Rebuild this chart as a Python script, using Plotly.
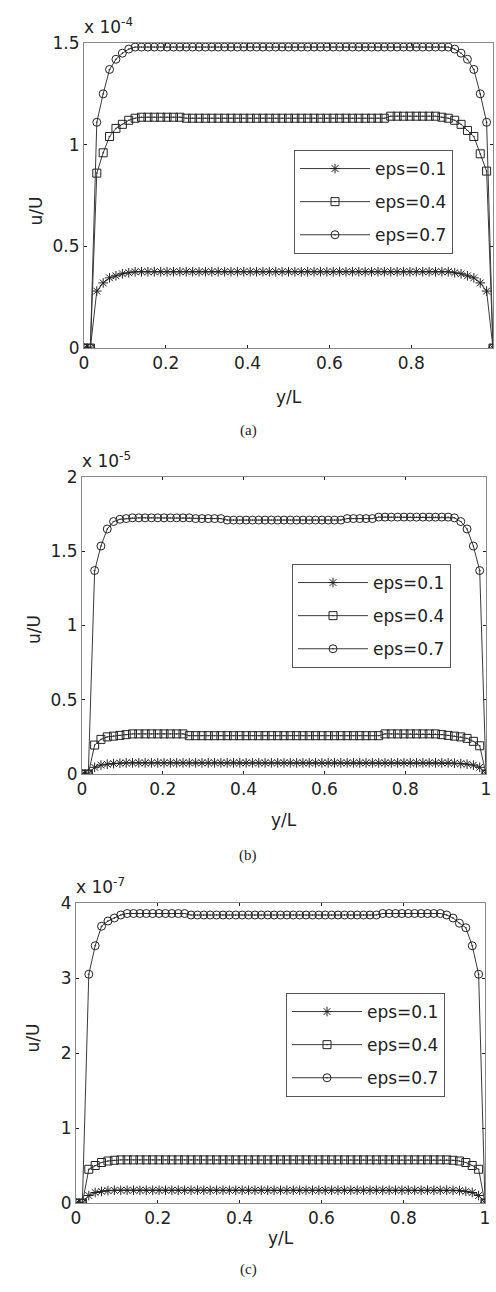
import plotly.graph_objects as go

W, H = 496, 1292

# grid y/L
x_grid = [0, 0.0156, 0.0313, 0.0469, 0.0625, 0.0781, 0.0938, 0.1094,
          0.125, 0.1406, 0.1563, 0.1719, 0.1875, 0.2031, 0.2188, 0.2344,
          0.25, 0.2656, 0.2813, 0.2969, 0.3125, 0.3281, 0.3438, 0.3594,
          0.375, 0.3906, 0.4063, 0.4219, 0.4375, 0.4531, 0.4688, 0.4844,
          0.5, 0.5156, 0.5313, 0.5469, 0.5625, 0.5781, 0.5938, 0.6094,
          0.625, 0.6406, 0.6563, 0.6719, 0.6875, 0.7031, 0.7188, 0.7344,
          0.75, 0.7656, 0.7813, 0.7969, 0.8125, 0.8281, 0.8438, 0.8594,
          0.875, 0.8906, 0.9063, 0.9219, 0.9375, 0.9531, 0.9688, 0.9844,
          1]

series_names = ["eps=0.1", "eps=0.4", "eps=0.7"]

# ---- panel (a), values in units of 1e-4 ----
a_eps01 = [0, 0, 0.28, 0.32, 0.345, 0.355, 0.365, 0.37, 0.375,
           0.375, 0.375, 0.375, 0.375, 0.375, 0.375, 0.375, 0.375,
           0.375, 0.375, 0.375, 0.375, 0.375, 0.375, 0.375, 0.375,
           0.375, 0.375, 0.375, 0.375, 0.375, 0.375, 0.375, 0.375,
           0.375, 0.375, 0.375, 0.375, 0.375, 0.375, 0.375, 0.375,
           0.375, 0.375, 0.375, 0.375, 0.375, 0.375, 0.375, 0.375,
           0.375, 0.375, 0.375, 0.375, 0.375, 0.375, 0.375, 0.375,
           0.375, 0.37, 0.365, 0.355, 0.345, 0.32, 0.28, 0]
a_eps04 = [0, 0, 0.86, 0.96, 1.04, 1.08, 1.10, 1.12, 1.13,
           1.135, 1.135, 1.135, 1.135, 1.135, 1.135, 1.135, 1.13,
           1.13, 1.13, 1.13, 1.13, 1.13, 1.13, 1.13, 1.13,
           1.13, 1.13, 1.13, 1.13, 1.13, 1.13, 1.13, 1.13,
           1.13, 1.13, 1.13, 1.13, 1.13, 1.13, 1.13, 1.13,
           1.13, 1.13, 1.13, 1.13, 1.13, 1.13, 1.13, 1.14,
           1.14, 1.14, 1.14, 1.14, 1.14, 1.14, 1.14, 1.135,
           1.13, 1.12, 1.10, 1.07, 1.04, 0.955, 0.87, 0]
a_eps07 = [0, 0, 1.11, 1.25, 1.37, 1.42, 1.45, 1.47, 1.48,
           1.48, 1.48, 1.48, 1.48, 1.48, 1.48, 1.48, 1.48,
           1.48, 1.48, 1.48, 1.48, 1.48, 1.48, 1.48, 1.48,
           1.48, 1.48, 1.48, 1.48, 1.48, 1.48, 1.48, 1.48,
           1.48, 1.48, 1.48, 1.48, 1.48, 1.48, 1.48, 1.48,
           1.48, 1.48, 1.48, 1.48, 1.48, 1.48, 1.48, 1.48,
           1.48, 1.48, 1.48, 1.48, 1.48, 1.48, 1.48, 1.48,
           1.48, 1.47, 1.45, 1.42, 1.37, 1.25, 1.11, 0]

# ---- panel (b), values in units of 1e-5 ----
b_eps01 = [0, 0, 0.045, 0.06, 0.066, 0.07, 0.073, 0.075, 0.075,
           0.075, 0.075, 0.075, 0.075, 0.075, 0.075, 0.075, 0.075,
           0.075, 0.075, 0.075, 0.075, 0.075, 0.075, 0.075, 0.075,
           0.075, 0.075, 0.075, 0.075, 0.075, 0.075, 0.075, 0.075,
           0.075, 0.075, 0.075, 0.075, 0.075, 0.075, 0.075, 0.075,
           0.075, 0.075, 0.075, 0.075, 0.075, 0.075, 0.075, 0.075,
           0.075, 0.075, 0.075, 0.075, 0.075, 0.075, 0.075, 0.075,
           0.075, 0.075, 0.073, 0.07, 0.066, 0.06, 0.045, 0]
b_eps04 = [0, 0, 0.195, 0.233, 0.25, 0.255, 0.26, 0.265, 0.27,
           0.27, 0.27, 0.27, 0.27, 0.27, 0.27, 0.27, 0.27,
           0.258, 0.258, 0.258, 0.258, 0.258, 0.258, 0.258, 0.258,
           0.258, 0.258, 0.258, 0.258, 0.258, 0.258, 0.258, 0.258,
           0.258, 0.258, 0.258, 0.258, 0.258, 0.258, 0.258, 0.258,
           0.258, 0.258, 0.258, 0.258, 0.258, 0.258, 0.258, 0.27,
           0.27, 0.27, 0.27, 0.27, 0.27, 0.27, 0.27, 0.27,
           0.265, 0.26, 0.255, 0.25, 0.24, 0.22, 0.19, 0]
b_eps07 = [0, 0, 1.37, 1.535, 1.65, 1.70, 1.715, 1.72, 1.725,
           1.725, 1.725, 1.725, 1.725, 1.725, 1.725, 1.725, 1.725,
           1.725, 1.72, 1.72, 1.72, 1.72, 1.72, 1.71, 1.71,
           1.71, 1.71, 1.71, 1.71, 1.71, 1.71, 1.71, 1.71,
           1.71, 1.71, 1.71, 1.71, 1.71, 1.71, 1.71, 1.71,
           1.71, 1.72, 1.72, 1.72, 1.72, 1.72, 1.73, 1.73,
           1.73, 1.73, 1.73, 1.73, 1.73, 1.73, 1.73, 1.73,
           1.73, 1.73, 1.725, 1.70, 1.65, 1.535, 1.37, 0]

# ---- panel (c), values in units of 1e-7 ----
c_eps01 = [0, 0, 0.10, 0.14, 0.155, 0.165, 0.17, 0.17, 0.17,
           0.17, 0.17, 0.17, 0.17, 0.17, 0.17, 0.17, 0.17,
           0.17, 0.17, 0.17, 0.17, 0.17, 0.17, 0.17, 0.17,
           0.17, 0.17, 0.17, 0.17, 0.17, 0.17, 0.17, 0.17,
           0.17, 0.17, 0.17, 0.17, 0.17, 0.17, 0.17, 0.17,
           0.17, 0.17, 0.17, 0.17, 0.17, 0.17, 0.17, 0.17,
           0.17, 0.17, 0.17, 0.17, 0.17, 0.17, 0.17, 0.17,
           0.17, 0.17, 0.17, 0.165, 0.155, 0.14, 0.10, 0]
c_eps04 = [0, 0, 0.45, 0.50, 0.54, 0.56, 0.57, 0.575, 0.575,
           0.575, 0.575, 0.575, 0.575, 0.575, 0.575, 0.575, 0.575,
           0.575, 0.575, 0.575, 0.575, 0.575, 0.575, 0.575, 0.575,
           0.575, 0.575, 0.575, 0.575, 0.575, 0.575, 0.575, 0.575,
           0.575, 0.575, 0.575, 0.575, 0.575, 0.575, 0.575, 0.575,
           0.575, 0.575, 0.575, 0.575, 0.575, 0.575, 0.575, 0.575,
           0.575, 0.575, 0.575, 0.575, 0.575, 0.575, 0.575, 0.575,
           0.575, 0.575, 0.57, 0.56, 0.54, 0.50, 0.45, 0]
c_eps07 = [0, 0, 3.05, 3.43, 3.69, 3.76, 3.80, 3.84, 3.86,
           3.86, 3.86, 3.86, 3.86, 3.86, 3.86, 3.86, 3.86,
           3.86, 3.84, 3.84, 3.84, 3.84, 3.84, 3.84, 3.84,
           3.84, 3.84, 3.84, 3.84, 3.84, 3.84, 3.84, 3.84,
           3.84, 3.84, 3.84, 3.84, 3.84, 3.84, 3.84, 3.84,
           3.84, 3.84, 3.84, 3.84, 3.84, 3.84, 3.84, 3.86,
           3.86, 3.86, 3.86, 3.86, 3.86, 3.86, 3.86, 3.86,
           3.86, 3.84, 3.80, 3.73, 3.67, 3.43, 3.05, 0]

x_ticks = [0, 0.2, 0.4, 0.6, 0.8, 1]
x_ticktext = ["0", "0.2", "0.4", "0.6", "0.8", "1"]
a_yticks = [0, 0.5, 1, 1.5]
a_yticktext = ["0", "0.5", "1", "1.5"]
b_yticks = [0, 0.5, 1, 1.5, 2]
b_yticktext = ["0", "0.5", "1", "1.5", "2"]
c_yticks = [0, 1, 2, 3, 4]
c_yticktext = ["0", "1", "2", "3", "4"]
exponents = ["-4", "-5", "-7"]
panel_tags = ["(a)", "(b)", "(c)"]

# ---------- layout in pixels ----------
panels = [
    dict(x0=84, x1=493, y0=43, y1=348, ylab=385, tag=420, ulab=(24, 195),
         leg=(294, 150), data=[a_eps01, a_eps04, a_eps07], yt=a_yticks,
         ytt=a_yticktext, yr=[0, 1.5]),
    dict(x0=82, x1=486, y0=477, y1=774, ylab=820, tag=855, ulab=(22, 630),
         leg=(292, 564), data=[b_eps01, b_eps04, b_eps07], yt=b_yticks,
         ytt=b_yticktext, yr=[0, 2]),
    dict(x0=76, x1=485, y0=903, y1=1203, ylab=1250, tag=1280, ulab=(20, 1055),
         leg=(286, 993), data=[c_eps01, c_eps04, c_eps07], yt=c_yticks,
         ytt=c_yticktext, yr=[0, 4]),
]

symbols = ["asterisk-open", "square-open-dot", "circle-open-dot"]
mcolors = ["#444444", "#444444", "#555555"]
FONT = "DejaVu Sans, Liberation Sans, Arial, sans-serif"
FS = 17

fig = go.Figure()
annotations = []
layout = {}

def px(xp):
    return xp / W

def py(yp):
    return 1 - yp / H

for i, p in enumerate(panels):
    sfx = "" if i == 0 else str(i + 1)
    xa, ya = "x" + sfx, "y" + sfx
    leg = "legend" + sfx
    for j in range(3):
        fig.add_trace(go.Scatter(
            x=x_grid, y=p["data"][j], mode="lines+markers",
            name=series_names[j], xaxis=xa, yaxis=ya, legend=leg,
            legendgroup=f"g{i}{j}",
            line=dict(color="#3a3a3a", width=1),
            marker=dict(symbol=symbols[j], size=8, color="#222222",
                        line=dict(color=mcolors[j], width=1)),
        ))
    axcommon = dict(showline=True, linecolor="#8a8a8a", linewidth=1,
                    mirror="ticks", ticks="inside", ticklen=3,
                    tickcolor="#222", showgrid=False, zeroline=False,
                    automargin=False,
                    tickfont=dict(family=FONT, size=FS, color="#222"))
    layout["xaxis" + sfx] = dict(
        domain=[px(p["x0"]), px(p["x1"])], anchor=ya, range=[0, 1],
        tickvals=x_ticks, ticktext=x_ticktext, **axcommon)
    layout["yaxis" + sfx] = dict(
        domain=[py(p["y1"]), py(p["y0"])], anchor=xa, range=p["yr"],
        tickvals=p["yt"], ticktext=p["ytt"], **axcommon)
    layout[leg] = dict(
        x=px(p["leg"][0]), y=py(p["leg"][1]), xanchor="left", yanchor="top",
        bordercolor="#555", borderwidth=1, bgcolor="white",
        font=dict(family=FONT, size=FS, color="#222"),
        tracegroupgap=8, itemwidth=70)
    # labels
    annotations.append(dict(
        x=px((p["x0"] + p["x1"]) / 2), y=py(p["ylab"]), xref="paper",
        yref="paper", text="y/L", showarrow=False,
        font=dict(family=FONT, size=FS, color="#222")))
    annotations.append(dict(
        x=px(248), y=py(p["tag"]), xref="paper", yref="paper",
        text=panel_tags[i], showarrow=False,
        font=dict(family="Liberation Serif, Times New Roman, serif",
                  size=15, color="#222")))
    annotations.append(dict(
        x=px(p["ulab"][0]), y=py(p["ulab"][1]), xref="paper", yref="paper",
        text="u/U", showarrow=False, textangle=-90,
        font=dict(family=FONT, size=FS, color="#222")))
    annotations.append(dict(
        x=px(p["x0"] - 2), y=py(p["y0"] - 4), xref="paper", yref="paper",
        xanchor="left", yanchor="bottom",
        text="x 10<sup>" + exponents[i] + "</sup>", showarrow=False,
        font=dict(family=FONT, size=FS, color="#222")))

fig.update_layout(
    width=W, height=H, margin=dict(l=0, r=0, t=0, b=0, autoexpand=False),
    paper_bgcolor="white", plot_bgcolor="white", showlegend=True,
    annotations=annotations, **layout)

fig.write_html(
    "out.html",
    config={"displayModeBar": False},
    post_script="document.body.style.margin='0';"
                "document.body.style.overflow='hidden';")
